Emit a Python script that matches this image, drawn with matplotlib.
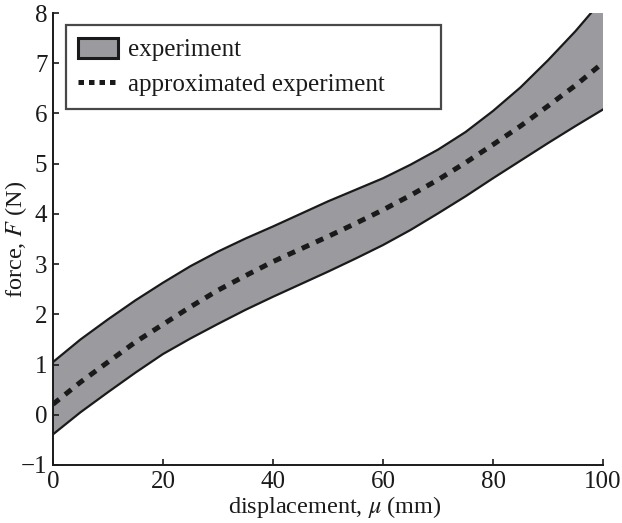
import matplotlib
matplotlib.use("Agg")
import matplotlib.pyplot as plt
from matplotlib.patches import Patch
from matplotlib.lines import Line2D

# values
displacement = [0, 5, 10, 15, 20, 25, 30, 35, 40, 45, 50,
                55, 60, 65, 70, 75, 80, 85, 90, 95, 100]
upper = [1.05, 1.50, 1.90, 2.28, 2.63, 2.96, 3.25, 3.51, 3.75, 4.00, 4.25,
         4.48, 4.71, 4.98, 5.28, 5.63, 6.05, 6.52, 7.06, 7.64, 8.28]
lower = [-0.39, 0.05, 0.45, 0.84, 1.21, 1.52, 1.81, 2.09, 2.35, 2.60, 2.85,
         3.11, 3.38, 3.68, 4.01, 4.35, 4.71, 5.06, 5.41, 5.75, 6.08]
approx = [0.21, 0.65, 1.05, 1.45, 1.80, 2.15, 2.48, 2.77, 3.05, 3.30, 3.55,
          3.81, 4.08, 4.37, 4.68, 5.02, 5.38, 5.75, 6.15, 6.56, 7.01]

x_ticks = [0, 20, 40, 60, 80, 100]
y_ticks = [-1, 0, 1, 2, 3, 4, 5, 6, 7, 8]

GREY = "#9b9b9f"
INK = "#1a1a1a"

plt.rcParams["font.family"] = ["Liberation Serif", "DejaVu Serif"]
plt.rcParams["mathtext.fontset"] = "stix"

fig = plt.figure(figsize=(6.22, 5.23), dpi=100)
ax = fig.add_axes([0.0852, 0.1109, 0.8843, 0.8642])

ax.fill_between(displacement, lower, upper, facecolor=GREY, edgecolor="none")
ax.plot(displacement, upper, color=INK, lw=1.6)
ax.plot(displacement, lower, color=INK, lw=1.6)
ax.plot(displacement, approx, color=INK, lw=3.6, dashes=(1.6, 1.5))

ax.set_xlim(0, 100)
ax.set_ylim(-1, 8)
ax.set_xticks(x_ticks)
ax.set_yticks(y_ticks)
ax.set_yticklabels(["\u22121"] + [str(v) for v in y_ticks[1:]])
ax.tick_params(direction="in", length=4, width=1.2, labelsize=18,
               colors=INK, pad=4)
for side in ("top", "right"):
    ax.spines[side].set_visible(False)
for side in ("left", "bottom"):
    ax.spines[side].set_linewidth(1.4)
    ax.spines[side].set_color(INK)

ax.set_xlabel(r"displacement, $\mu$ (mm)", fontsize=17.5, color=INK)
ax.set_ylabel(r"force, $F$ (N)", fontsize=17.5, color=INK)
ax.xaxis.set_label_coords(0.513, -0.064)
ax.yaxis.set_label_coords(-0.043, 0.5)

handles = [Patch(facecolor=GREY, edgecolor=INK, lw=2.2),
           Line2D([], [], color=INK, lw=3.6, dashes=(1.1, 1.0))]
leg = ax.legend(handles, ["experiment", "approximated experiment"],
                loc="upper left", bbox_to_anchor=(0.0236, 0.80, 0.682, 0.173),
                mode="expand", fontsize=18, frameon=True, fancybox=False,
                handlelength=1.6, handleheight=0.85, borderpad=0.5,
                labelspacing=0.45, handletextpad=0.38, borderaxespad=0.0)
leg.get_frame().set_edgecolor(INK)
leg.get_frame().set_linewidth(1.6)
for t in leg.get_texts():
    t.set_color(INK)

fig.savefig("out.png", dpi=100, facecolor="white")
